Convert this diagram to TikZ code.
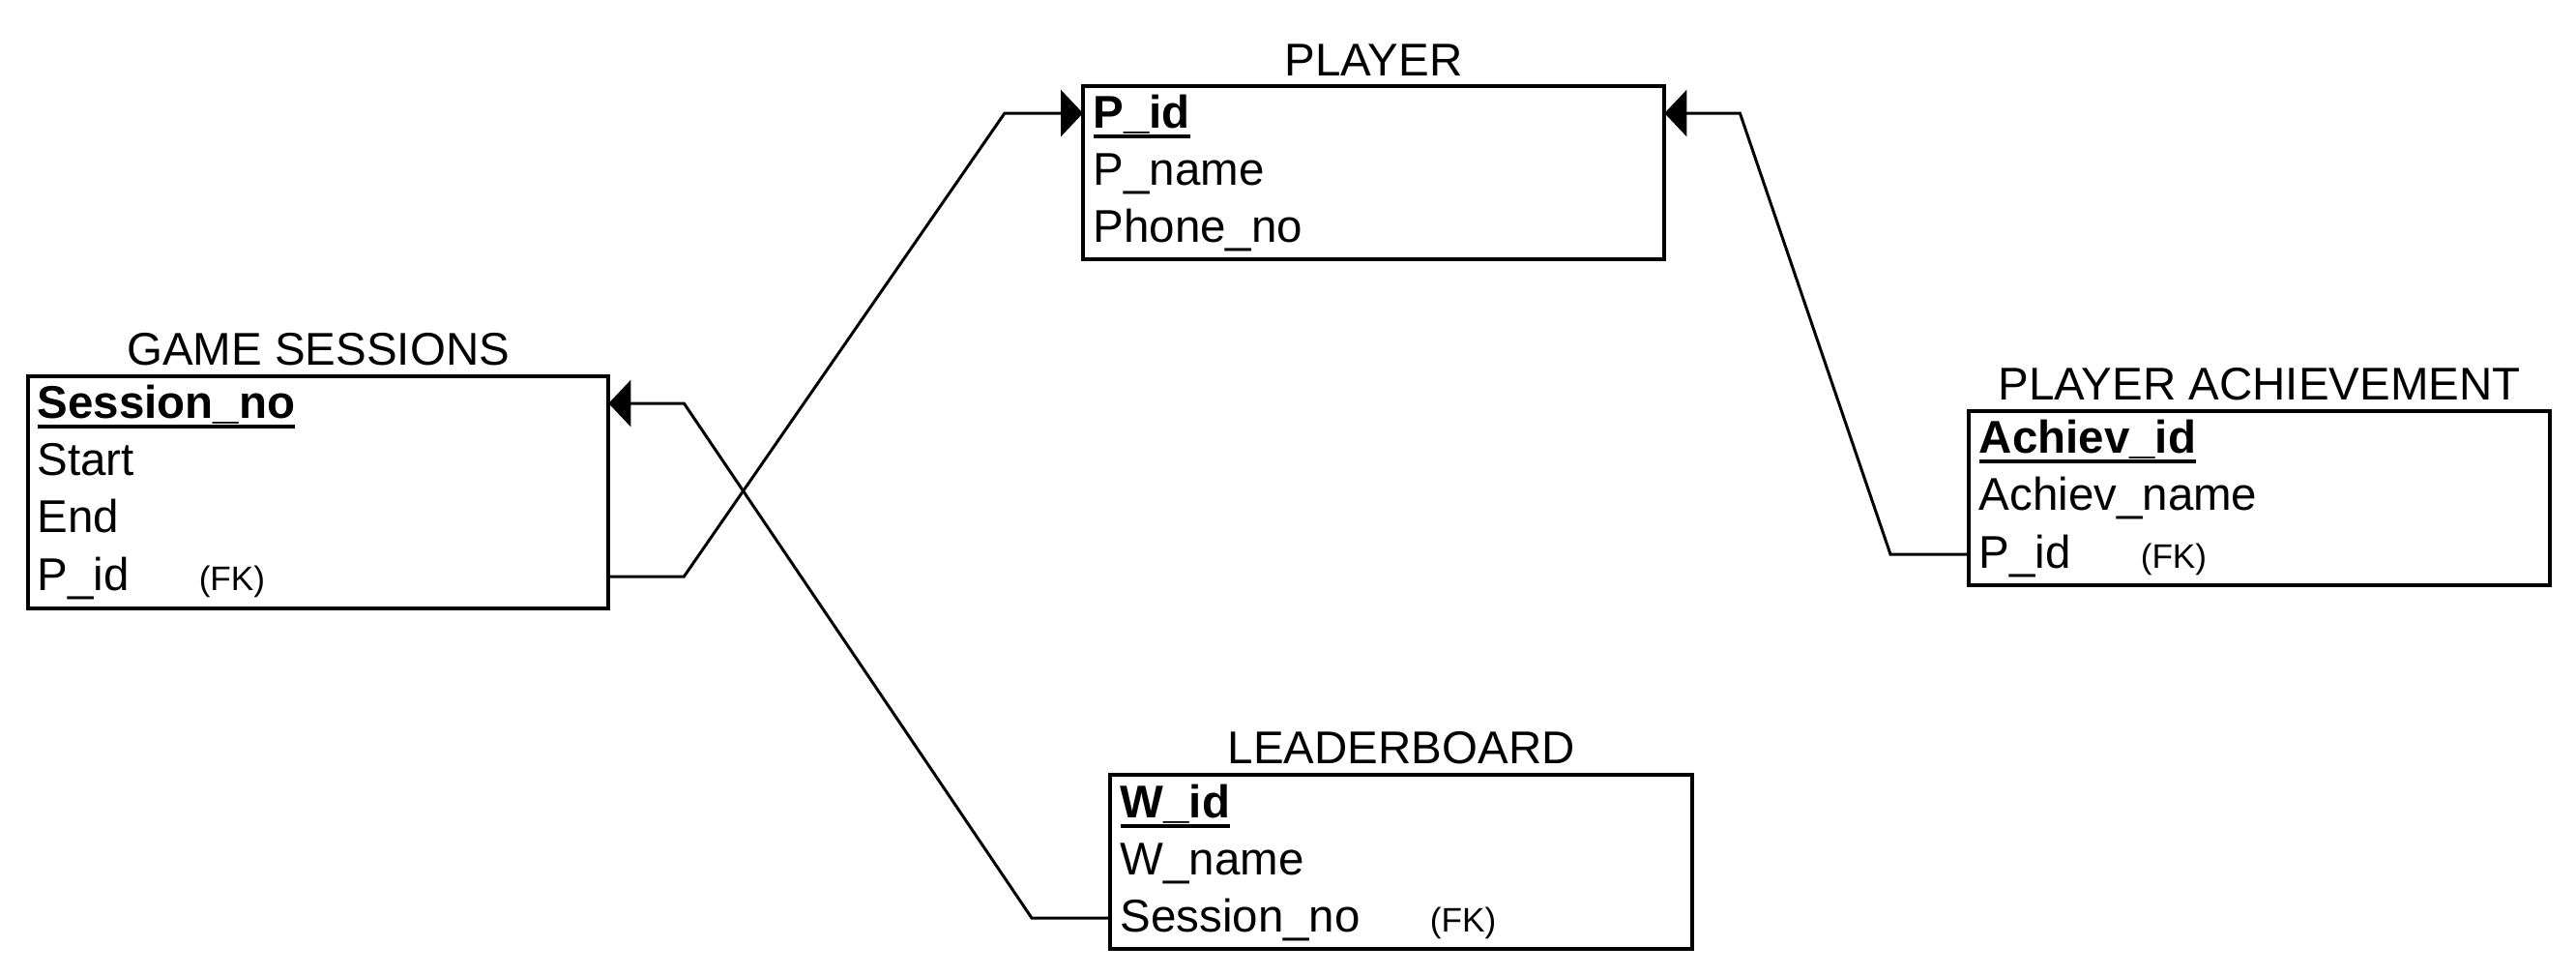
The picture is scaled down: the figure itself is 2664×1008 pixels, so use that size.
\documentclass[tikz,border=0pt]{standalone}
\usepackage{fontspec}
\setmainfont{Liberation Sans}
\usetikzlibrary{arrows.meta}
\newcommand{\pk}[1]{\setbox0\hbox{\bfseries #1}\rlap{\rule[-3.1pt]{\wd0}{1.2pt}}\box0}
\newcommand{\fk}{\hspace{0.72cm}{\fontsize{10}{12}\selectfont(FK)}}
\tikzset{fkline/.style={line width=0.85pt, -{Triangle[length=0.23cm,width=0.48cm]}}}

\begin{document}
\begin{tikzpicture}[x=0.01cm, y=-0.01cm, font=\fontsize{13.5}{16}\selectfont]
\tikzstyle{tbl}=[draw, line width=1.15pt, inner sep=0pt, outer sep=0pt, anchor=north west]
\tikzstyle{title}=[inner sep=0pt, anchor=base]
\tikzstyle{attr}=[inner sep=0pt, anchor=base west]
\useasboundingbox (0,0) rectangle (2664,1008);
% tables
\node[tbl, minimum width=6cm, minimum height=2.4cm] (gs) at (29,389) {};
\node[tbl, minimum width=6.01cm, minimum height=1.79cm] (pl) at (1120,89) {};
\node[tbl, minimum width=6.01cm, minimum height=1.8cm] (pa) at (2036,425) {};
\node[tbl, minimum width=6.02cm, minimum height=1.8cm] (lb) at (1148,801) {};
% titles
\node[title] (gs-t) at ([yshift=0.12cm]gs.north) {GAME SESSIONS};
\node[title] (pl-t) at ([yshift=0.11cm]pl.north) {PLAYER};
\node[title] (pa-t) at ([yshift=0.12cm]pa.north) {PLAYER ACHIEVEMENT};
\node[title] (lb-t) at ([yshift=0.12cm]lb.north) {LEADERBOARD};
% attributes
\foreach \r [count=\i from 0] in {\pk{Session\_no}, Start, End, P\_id\fk}
  \node[attr] (gs-\i) at ([xshift=0.09cm, yshift=-0.43cm-\i*0.593cm]gs.north west) {\r};
\foreach \r [count=\i from 0] in {\pk{P\_id}, P\_name, Phone\_no}
  \node[attr] (pl-\i) at ([xshift=0.1cm, yshift=-0.43cm-\i*0.59cm]pl.north west) {\r};
\foreach \r [count=\i from 0] in {\pk{Achiev\_id}, Achiev\_name, P\_id\fk}
  \node[attr] (pa-\i) at ([xshift=0.1cm, yshift=-0.43cm-\i*0.595cm]pa.north west) {\r};
\foreach \r [count=\i from 0] in {\pk{W\_id}, W\_name, Session\_no\fk}
  \node[attr] (lb-\i) at ([xshift=0.1cm, yshift=-0.44cm-\i*0.59cm]lb.north west) {\r};
% keys
\coordinate (gs-out) at ([yshift=0.14cm]gs.east |- gs-3.base);
\coordinate (gs-in) at ([yshift=0.15cm]gs.east |- gs-0.base);
\coordinate (pl-inl) at ([yshift=0.15cm]pl.west |- pl-0.base);
\coordinate (pl-inr) at ([yshift=0.15cm]pl.east |- pl-0.base);
\coordinate (pa-out) at ([yshift=0.14cm]pa.west |- pa-2.base);
\coordinate (lb-out) at ([yshift=0.14cm]lb.west |- lb-2.base);
\draw[fkline] (gs-out) -- ++(78,0) -- ([xshift=-0.81cm]pl-inl) -- (pl-inl);
\draw[fkline] (pa-out) -- ++(-81,0) -- ([xshift=0.78cm]pl-inr) -- (pl-inr);
\draw[fkline] (lb-out) -- ++(-81,0) -- ([xshift=0.78cm]gs-in) -- (gs-in);
\end{tikzpicture}
\end{document}
